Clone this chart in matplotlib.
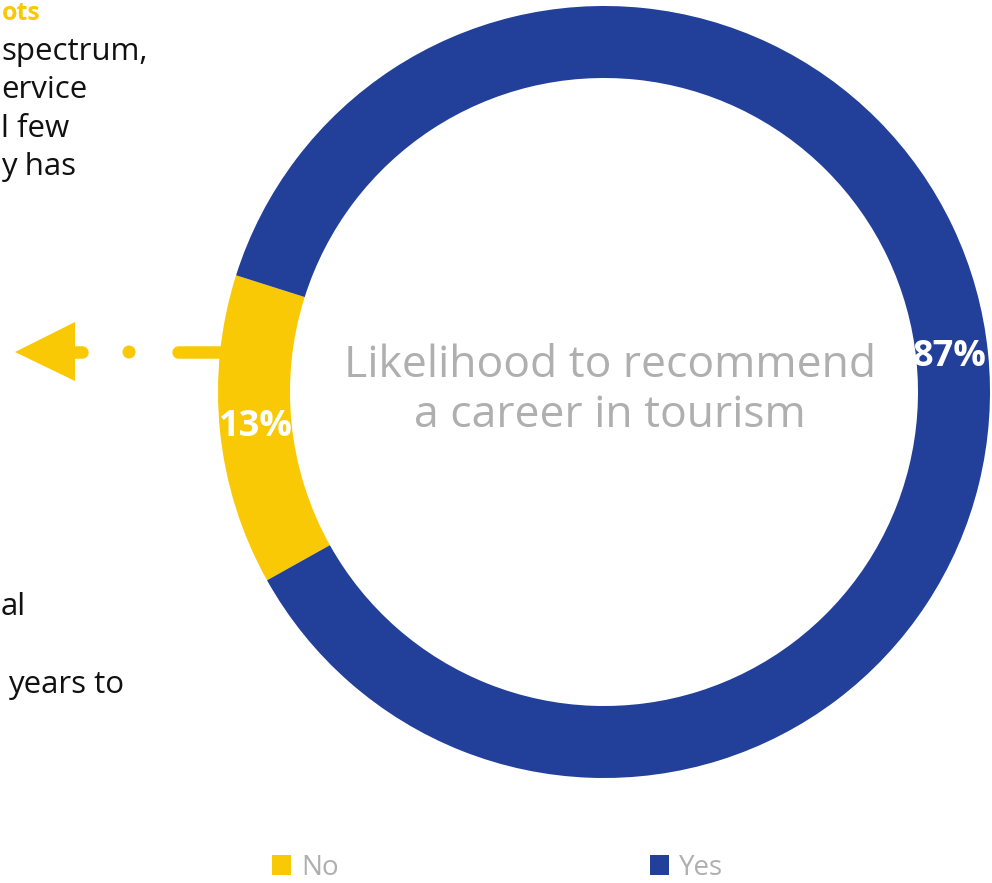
import matplotlib
matplotlib.use("Agg")
import matplotlib.pyplot as plt
from matplotlib.patches import Polygon, Circle

# Survey answers
categories = ["No", "Yes"]
shares = [13, 87]

title_text = "Likelihood to recommend\na career in tourism"
heading = "ots"
body_top = ["spectrum,", "ervice", "l few", "y has"]
body_bottom = ["al", "", "years to"]

YELLOW = "#FAC905"
BLUE = "#22409A"
GREY = "#AFAFAF"
FONT = ["Open Sans", "DejaVu Sans"]

W, H = 992, 883
fig = plt.figure(figsize=(W / 100, H / 100), dpi=100)
ax = fig.add_axes([0, 0, 1, 1])

cx, cy = 604, H - 392
R, ring = 386, 72

wedges, _, autotexts = ax.pie(
    shares, colors=[YELLOW, BLUE], startangle=162.4, counterclock=True,
    radius=R, center=(cx, cy), wedgeprops=dict(width=ring, linewidth=0),
    autopct=lambda p: f"{p:.0f}%", pctdistance=(R - ring / 2) / R,
    textprops=dict(color="white", fontsize=26, fontweight="bold", family=FONT),
)
autotexts[1].set_x(autotexts[1].get_position()[0] - 3)

ax.text(cx + 6, cy + 1, title_text, ha="center", va="center", fontsize=32,
        color=GREY, family=FONT, linespacing=1.15)

# Arrow pointing left from the "No" segment
ay = H - 352
ax.add_patch(Polygon([(15, ay), (75, ay + 30), (75, ay - 29)], closed=True,
                     color=YELLOW, lw=0, zorder=1))
ax.plot([70, 82], [ay, ay], color=YELLOW, lw=9, solid_capstyle="round", zorder=1)
ax.add_patch(Circle((129, ay), 6.5, color=YELLOW, lw=0, zorder=1))
ax.plot([178, 240], [ay, ay], color=YELLOW, lw=9, solid_capstyle="round", zorder=0)

# Body copy on the left
ax.text(2, H - 1, heading, ha="left", va="top", fontsize=18,
        fontweight="bold", color=YELLOW, family=FONT)
for i, line in enumerate(body_top):
    ax.text(1, H - 52 - 38.5 * i, line, ha="left",
            va="center", fontsize=22.5, color="#111111", family=FONT)
for x, (i, line) in zip([1, 0, 8], enumerate(body_bottom)):
    if line:
        ax.text(x, H - 607 - 39 * i, line, ha="left",
                va="center", fontsize=22.5, color="#111111", family=FONT)

leg = ax.legend(wedges, categories, loc="center left",
                bbox_to_anchor=(272 / W, 1 - 868 / H, 0.1, 0.001),
                bbox_transform=fig.transFigure, ncol=2, frameon=False,
                prop=dict(family=FONT, size=20), labelcolor=GREY,
                handlelength=0.7, handleheight=0.7, handletextpad=0.35,
                columnspacing=11.2, borderpad=0, borderaxespad=0)

ax.set_xlim(0, W)
ax.set_ylim(0, H)
ax.set_aspect("auto")
ax.axis("off")

fig.savefig("out.png", dpi=100)
